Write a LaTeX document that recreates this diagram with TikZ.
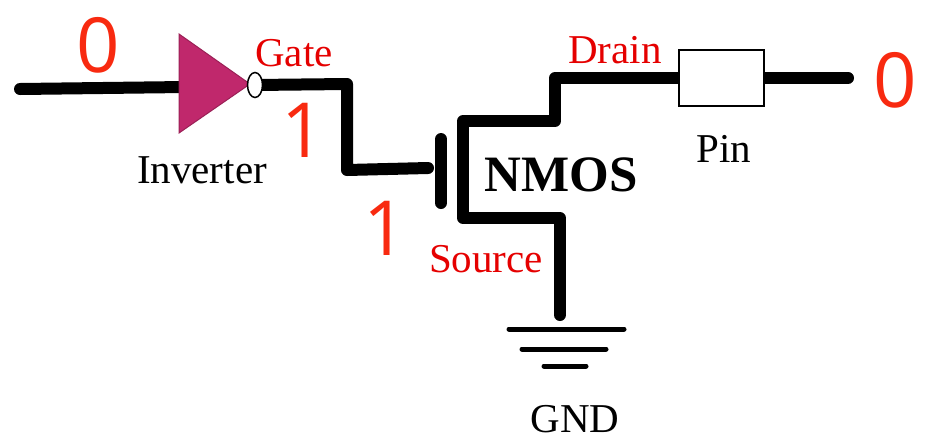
\documentclass[tikz,border=0pt]{standalone}
\usepackage{fontspec}
\setmainfont{Liberation Serif}
\newfontfamily\digitfont{Open Sans}
\usetikzlibrary{shapes.geometric}
\usetikzlibrary{backgrounds}
\definecolor{invcolor}{HTML}{C0286C}
\definecolor{sigred}{HTML}{F82A10}

\begin{document}
\begin{tikzpicture}
    [
        x=1pt, y=-1pt,
        wire/.style={line width=12pt, line cap=round, line join=round},
        bar/.style={line width=5pt, line cap=round},
        name label/.style={inner sep=0pt, font=\fontsize{41}{41}\selectfont},
        red label/.style={name label, text=red!90!black},
        level label/.style={inner sep=0pt, text=sigred, font=\digitfont\fontsize{76}{76}\selectfont},
    ]
    \useasboundingbox (0,0) rectangle (933,445);

    % inverter
    \coordinate (in) at (20,89);
    \coordinate (invtop) at (179,34);
    \coordinate (invbot) at (179,133);
    \coordinate (invtip) at (250,84);
    \coordinate (invleft) at (185,87);
    \draw[invcolor!80!black, fill=invcolor, line width=1pt] (invtop) -- (invtip) -- (invbot) -- cycle;
    \node[draw, fill=white, ellipse, line width=1.5pt, minimum width=15pt, minimum height=25pt, inner sep=0pt] (bubble) at (255,85) {};

    % gate wire and plate
    \coordinate (gate1) at (347,84);
    \coordinate (gate2) at (347,170);
    \coordinate (gate3) at (428,168);
    \coordinate (platetop) at (441,139);
    \coordinate (platebot) at (441,203);

    % channel with drain and source
    \node[draw, fill=white, line width=2pt, minimum width=85pt, minimum height=56pt, inner sep=0pt] (pin) at (721,78) {};
    \coordinate (out) at (848,78);
    \coordinate (drain1) at (555,78);
    \coordinate (drain2) at (555,121);
    \coordinate (chantop) at (463,121);
    \coordinate (chanbot) at (463,218);
    \coordinate (source1) at (560,218);
    \coordinate (source2) at (560,315);

    % wires go under the shapes
    \begin{scope}[on background layer]
        \draw[wire] (in) -- (invleft);
        \draw[wire] (bubble.center) -- (gate1) -- (gate2) -- (gate3);
        \draw[wire] (platetop) -- (platebot);
        \draw[wire] (pin.center) -- (drain1) -- (drain2) -- (chantop) -- (chanbot) -- (source1) -- (source2);
        \draw[wire] (pin.center) -- (out);
    \end{scope}

    % ground
    \coordinate (gnda1) at (509,329);
    \coordinate (gnda2) at (624,329);
    \coordinate (gndb1) at (522,349);
    \coordinate (gndb2) at (606,349);
    \coordinate (gndc1) at (544,366);
    \coordinate (gndc2) at (586,366);
    \draw[bar] (gnda1) -- (gnda2);
    \draw[bar] (gndb1) -- (gndb2);
    \draw[bar] (gndc1) -- (gndc2);

    % labels
    \node[level label] (inzero) at (98,45) {0};
    \node[level label] (outzero) at (895,80) {0};
    \node[level label] (gateone) at (303,130) {1};
    \node[level label] (plateone) at (385,228) {1};
    \node[red label] (gatelabel) at (294,53) {Gate};
    \node[red label] (drainlabel) at (615,50) {Drain};
    \node[red label] (sourcelabel) at (486,259) {Source};
    \node[name label] (invlabel) at (202,170) {Inverter};
    \node[name label] (pinlabel) at (724,149) {Pin};
    \node[name label] (gndlabel) at (575,419) {GND};
    \node[name label, font=\bfseries\fontsize{51}{51}\selectfont] (nmoslabel) at (561,175) {NMOS};
\end{tikzpicture}
\end{document}
